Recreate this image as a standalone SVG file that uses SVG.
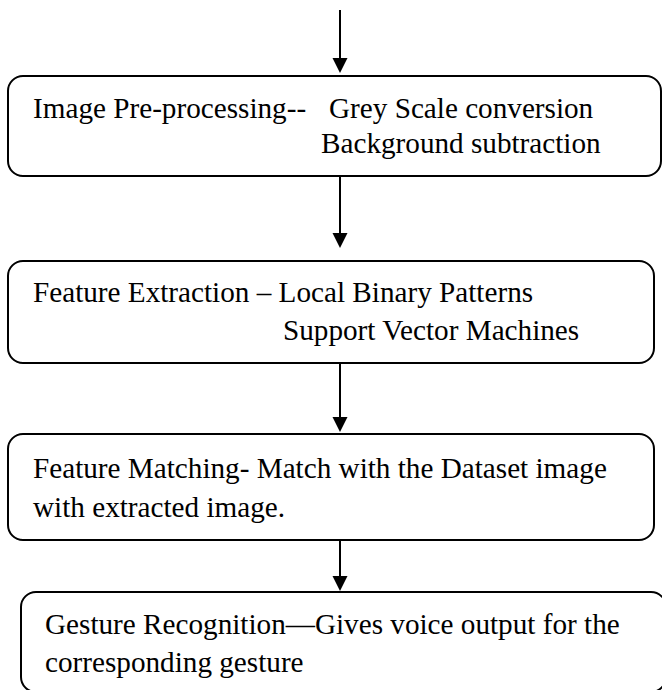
<svg xmlns="http://www.w3.org/2000/svg" width="662" height="690" viewBox="0 0 662 690">
<style>
.box{fill:#fff;stroke:#000;stroke-width:2}
.t{font-family:"Liberation Serif","Times New Roman",serif;font-size:29.2px;fill:#000}
.c{stroke:#000;stroke-width:2;fill:none}
.h{fill:#000}
</style>
<rect width="662" height="690" fill="#fff"/>
<g id="connectors">
<line class="c" x1="340" y1="10" x2="340" y2="60"/><path class="h" d="M332.5,58 L347.5,58 L340,73 Z"/>
<line class="c" x1="340" y1="176" x2="340" y2="235"/><path class="h" d="M332.5,233 L347.5,233 L340,248 Z"/>
<line class="c" x1="340" y1="363" x2="340" y2="419"/><path class="h" d="M332.5,417 L347.5,417 L340,432 Z"/>
<line class="c" x1="340" y1="540" x2="340" y2="578"/><path class="h" d="M332.5,576 L347.5,576 L340,591 Z"/>
</g>
<g id="n1">
<rect class="box" x="8" y="76" width="653" height="100" rx="15"/>
<text class="t" x="33" y="118">Image Pre-processing--</text>
<text class="t" x="329" y="118">Grey Scale conversion</text>
<text class="t" x="321" y="153">Background subtraction</text>
</g>
<g id="n2">
<rect class="box" x="8" y="261" width="646" height="102" rx="15"/>
<text class="t" x="33" y="302">Feature Extraction – Local Binary Patterns</text>
<text class="t" x="283" y="340">Support Vector Machines</text>
</g>
<g id="n3">
<rect class="box" x="8" y="434" width="646" height="106" rx="15"/>
<text class="t" x="33" y="478">Feature Matching- Match with the Dataset image</text>
<text class="t" x="33" y="517">with extracted image.</text>
</g>
<g id="n4">
<rect class="box" x="21" y="592" width="645" height="100" rx="15"/>
<text class="t" x="45" y="634">Gesture Recognition—Gives voice output for the</text>
<text class="t" x="45" y="672">corresponding gesture</text>
</g>
</svg>
